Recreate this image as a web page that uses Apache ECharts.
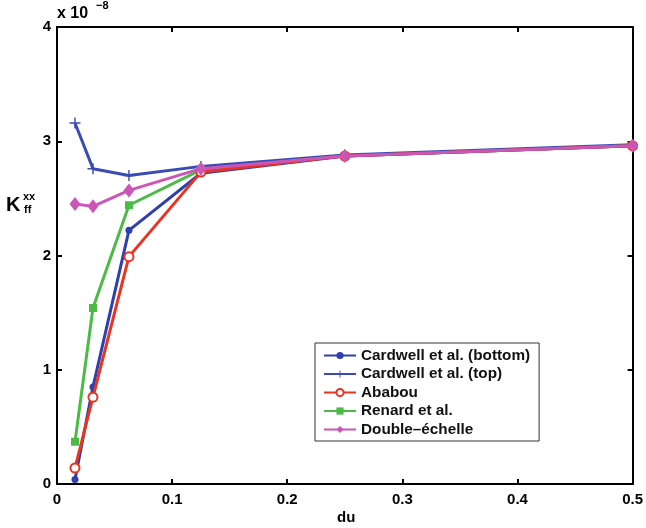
<!DOCTYPE html>
<html>
<head>
<meta charset="utf-8">
<script src="https://cdn.jsdelivr.net/npm/echarts@6/dist/echarts.min.js"></script>
<style>
html,body{margin:0;padding:0;background:#fff;}
#chart{width:646px;height:528px;}
</style>
</head>
<body>
<div id="chart"></div>
<script>
// du values (grid sizes)
var du = [0.015625, 0.03125, 0.0625, 0.125, 0.25, 0.5];
// K_ff^xx values in units of 1e-8
var cardwellBottom = [0.04, 0.85, 2.22, 2.72, 2.87, 2.96];
var cardwellTop    = [3.16, 2.76, 2.70, 2.78, 2.88, 2.97];
var ababou         = [0.14, 0.76, 1.99, 2.73, 2.87, 2.96];
var renard         = [0.37, 1.54, 2.44, 2.75, 2.87, 2.96];
var doubleEchelle  = [2.45, 2.43, 2.57, 2.76, 2.87, 2.96];
var seriesNames = ['Cardwell et al. (bottom)', 'Cardwell et al. (top)', 'Ababou', 'Renard et al.', 'Double\u2013\u00e9chelle'];
var xTicks = [0, 0.1, 0.2, 0.3, 0.4, 0.5];
var yTicks = [0, 1, 2, 3, 4];

function pairs(ys){ return du.map(function(x,i){ return [x, ys[i]]; }); }

var FONT = 'Liberation Sans, Arial, Helvetica, sans-serif';
var plus = 'path://M-1.3,-10 L1.3,-10 L1.3,-1.3 L10,-1.3 L10,1.3 L1.3,1.3 L1.3,10 L-1.3,10 L-1.3,1.3 L-10,1.3 L-10,-1.3 L-1.3,-1.3 Z';

var chart = echarts.init(document.getElementById('chart'), null, {renderer:'canvas'});

function axisBase(extra){
  var o = {
    type:'value',
    axisLine:{show:true, onZero:false, lineStyle:{color:'#000', width:2}},
    axisTick:{show:true, inside:true, length:5, lineStyle:{color:'#000', width:2}},
    splitLine:{show:false},
    axisLabel:{show:false}
  };
  for (var k in extra) o[k] = extra[k];
  return o;
}

var option = {
  backgroundColor:'#fff',
  animation:false,
  grid:{left:57, right:9, top:27, bottom:44, containLabel:false},
  xAxis:[
    axisBase({position:'bottom', min:0, max:0.5, interval:0.1,
      axisLabel:{show:true, margin:8, color:'#000', fontFamily:FONT, fontWeight:'bold', fontSize:15,
        formatter:function(v){ var t = xTicks.filter(function(a){return Math.abs(a-v)<1e-9;}); return t.length? String(t[0]) : ''; }}
    }),
    axisBase({position:'top', min:0, max:0.5, interval:0.1})
  ],
  yAxis:[
    axisBase({position:'left', min:0, max:4, interval:1,
      axisLabel:{show:true, margin:6, color:'#000', fontFamily:FONT, fontWeight:'bold', fontSize:15,
        formatter:function(v){ var t = yTicks.filter(function(a){return Math.abs(a-v)<1e-9;}); return t.length? String(t[0]) : ''; }}
    }),
    axisBase({position:'right', min:0, max:4, interval:1})
  ],
  legend:{
    orient:'vertical', left:315, top:343,
    backgroundColor:'#fff', borderColor:'#333', borderWidth:1,
    padding:[5,9,4,8], itemGap:3.5, itemWidth:32, itemHeight:9,
    textStyle:{fontFamily:FONT, fontWeight:'bold', fontSize:15.3, lineHeight:15, color:'#111', padding:[0,0,0,0]},
    data:seriesNames
  },
  series:[
    {name:seriesNames[0], type:'line', data:pairs(cardwellBottom), color:'#2e3fae',
      symbol:'circle', symbolSize:7, lineStyle:{width:3}, itemStyle:{color:'#2e3fae'}, z:3},
    {name:seriesNames[1], type:'line', data:pairs(cardwellTop), color:'#3a4bb4',
      symbol:plus, symbolSize:11, lineStyle:{width:3}, itemStyle:{color:'#3a4bb4'}, z:2},
    {name:seriesNames[2], type:'line', data:pairs(ababou), color:'#ea3320',
      symbol:'emptyCircle', symbolSize:9, lineStyle:{width:3}, itemStyle:{color:'#ea3320', borderWidth:2.5}, z:4},
    {name:seriesNames[3], type:'line', data:pairs(renard), color:'#4cbb45',
      symbol:'rect', symbolSize:8, lineStyle:{width:3}, itemStyle:{color:'#4cbb45'}, z:2},
    {name:seriesNames[4], type:'line', data:pairs(doubleEchelle), color:'#cc55b8',
      symbol:'diamond', symbolSize:[11,14], lineStyle:{width:3}, itemStyle:{color:'#cc55b8'}, z:5}
  ],
  graphic:[
    {type:'text', left:57, top:6, style:{text:'x 10', font:'bold 16px ' + FONT, fill:'#000'}},
    {type:'text', left:96, top:0, style:{text:'\u22128', font:'bold 11px ' + FONT, fill:'#000'}},
    {type:'text', left:6, top:195, style:{text:'K', font:'bold 20px ' + FONT, fill:'#000'}},
    {type:'text', left:23, top:191, style:{text:'xx', font:'bold 11px ' + FONT, fill:'#000'}},
    {type:'text', left:24, top:204, style:{text:'ff', font:'bold 11px ' + FONT, fill:'#000'}},
    {type:'text', left:337, top:510, style:{text:'du', font:'bold 15px ' + FONT, fill:'#000'}}
  ]
};
chart.setOption(option);
</script>
</body>
</html>
